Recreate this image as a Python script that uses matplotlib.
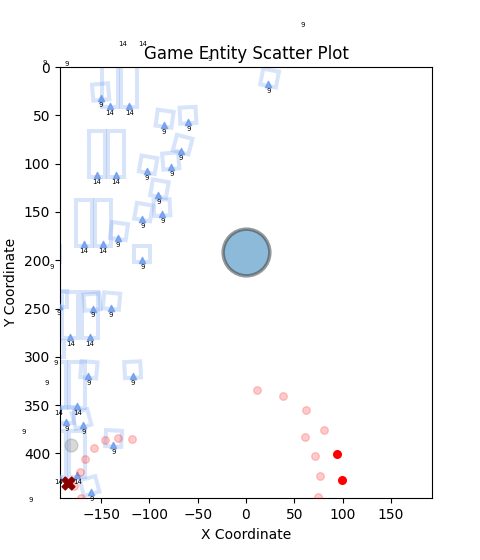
import matplotlib
matplotlib.use("Agg")
import matplotlib.pyplot as plt
from matplotlib.patches import Rectangle

# ---- data ----
ent_x = [-150.0, -85.3, -59.8, -67.4, -77.4, -102.6, -90.9, -86.7, -107.4, -132.6,
         -107.4, -158.9, -139.9, -163.4, -117.1, -186.2, -168.6, -137.5, -160.3, 23.1,
         59.0, -185.8, -209.0, -38.0, -201.3, -193.8, -196.9, -206.5, -230.0, -222.8,
         -141.1, -120.9, -154.7, -134.7, -168.2, -148.2, -182.0, -161.7, -174.8, -194.5,
         -174.8, -194.5, -127.5, -106.7]
ent_y = [32.4, 60.1, 56.6, 86.7, 103.9, 107.8, 132.6, 152.3, 156.8, 176.5,
         200.0, 250.0, 249.0, 320.2, 320.2, 367.5, 371.0, 391.4, 440.4, 17.9,
         -50.5, -10.0, -11.1, -15.2, 200.3, 247.4, 299.2, 319.5, 370.3, 441.5,
         40.2, 40.2, 111.9, 111.9, 183.4, 183.4, 279.5, 279.5, 351.3, 351.3,
         422.8, 422.8, -31.4, -31.4]
ent_label = [9] * 30 + [14] * 14
ent_rot = [5, -8, 3, -15, 5, -10, -10, 3, -10, -8,
           0, 5, -5, -5, 3, 0, 15, -3, 15, -11,
           0, 0, 0, 0, 0, 0, 0, 0, 0, 0] + [0] * 14

enemy_x = [11.1, 38.0, 62.2, 81.2, 61.1, 71.5, 76.7, 75.0,
           -146.4, -132.3, -118.1, -157.8, -166.8, -172.3, -178.0, -170.9]
enemy_y = [334.7, 341.0, 355.5, 375.8, 383.0, 402.4, 423.8, 445.0,
           385.8, 383.7, 385.2, 394.0, 405.9, 419.0, 433.9, 446.6]
active_x = [94.0, 99.1]
active_y = [400.3, 428.0]
ghost_x = [-181.7]
ghost_y = [391.0]
player_x = [-184.0]
player_y = [430.8]
base_x = [0.0]
base_y = [191.4]

xticks = [-150, -100, -50, 0, 50, 100, 150]
yticks = [0, 50, 100, 150, 200, 250, 300, 350, 400]

# ---- plot ----
fig, ax = plt.subplots(figsize=(4.8, 5.6), dpi=100)
ax.set_xlim(-192.7, 192.7)
ax.set_ylim(446.7, 0)

box_dims = {9: (16.6, 16.6), 14: (16.6, 47.7)}
for x, y, lab, rot in zip(ent_x, ent_y, ent_label, ent_rot):
    w, h = box_dims[lab]
    r = Rectangle((x - w / 2, y + 1.5 - h), w, h, angle=-rot,
                  rotation_point=(x, y), fill=False,
                  edgecolor='cornflowerblue', alpha=0.25, linewidth=2.9)
    ax.add_patch(r)

ax.scatter(ent_x, ent_y, marker='^', s=20, color='cornflowerblue', alpha=0.75, zorder=3)
for x, y, lab in zip(ent_x, ent_y, ent_label):
    ax.annotate(str(lab), (x, y), xytext=(0, -5), textcoords='offset points',
                ha='center', va='center', fontsize=5, annotation_clip=False, zorder=4)

ax.scatter(enemy_x, enemy_y, s=30, color='red', alpha=0.2, zorder=3)
ax.scatter(active_x, active_y, s=30, color='red', zorder=3)
ax.scatter(ghost_x, ghost_y, s=85, color='gray', alpha=0.3, zorder=3)
ax.scatter(player_x, player_y, s=85, marker='X', color='darkred', zorder=5)
ax.scatter(base_x, base_y, s=1130, color='tab:blue', alpha=0.5,
           edgecolors='#333333', linewidths=2.5, zorder=4)

ax.set_xticks(xticks)
ax.set_yticks(yticks)
ax.set_xlabel('X Coordinate')
ax.set_ylabel('Y Coordinate')
ax.set_title('Game Entity Scatter Plot')

fig.savefig('out.png', dpi=100)
